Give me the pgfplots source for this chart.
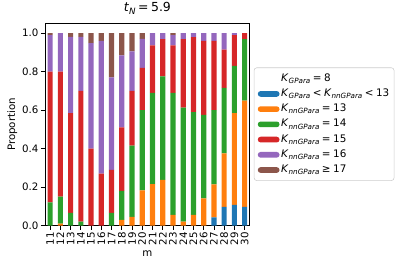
\documentclass[border=0pt]{standalone}
\usepackage{fontspec}
\setmainfont{DejaVu Sans}
\usepackage{pgfplots}
\usepackage{pgfplotstable}
\pgfplotsset{compat=1.18}
\definecolor{tabblue}{HTML}{1F77B4}
\definecolor{taborange}{HTML}{FF7F0E}
\definecolor{tabgreen}{HTML}{2CA02C}
\definecolor{tabred}{HTML}{D62728}
\definecolor{tabpurple}{HTML}{9467BD}
\definecolor{tabbrown}{HTML}{8C564B}
\newcommand{\sub}[1]{\raisebox{-0.22em}{\fontsize{5.2}{6}\selectfont\textit{#1}}}
\newcommand{\KG}{\textit{K}\sub{GPara}}
\newcommand{\KN}{\textit{K}\sub{nnGPara}}
\newcommand{\rel}[1]{\kern1.8pt#1\kern1.8pt}
\pgfplotstableread{
x blue orange green red purple brown
0 0 0 0.12 0.68 0.19 0.01
1 0 0.01 0.14 0.65 0.20 0
2 0 0 0.066 0.519 0.395 0.02
3 0 0 0.02 0.68 0.28 0.02
4 0 0 0 0.40 0.548 0.052
5 0 0 0 0.27 0.69 0.04
6 0 0 0.066 0.224 0.48 0.23
7 0 0.03 0.15 0.33 0.375 0.115
8 0 0.045 0.37 0.285 0.205 0.095
9 0 0.183 0.417 0.22 0.15 0.03
10 0 0.216 0.474 0.246 0.064 0
11 0 0.238 0.537 0.194 0.031 0
12 0 0.055 0.635 0.246 0.054 0.01
13 0 0.02 0.593 0.356 0.031 0
14 0 0.055 0.535 0.389 0.021 0
15 0 0.142 0.433 0.385 0.04 0
16 0.043 0.171 0.386 0.36 0.04 0
17 0.097 0.278 0.34 0.20 0.085 0
18 0.107 0.478 0.245 0.16 0.01 0
19 0.097 0.553 0.319 0.031 0 0
}\data
\begin{document}
\fontsize{7.4}{8.8}\selectfont
\begin{tikzpicture}
\path[use as bounding box] (-32.5pt,-30.7pt) rectangle (261.6pt,163pt);
\begin{axis}[
  at={(0pt,0pt)}, anchor=south west,
  scale only axis, width=148pt, height=146pt,
  ybar stacked, bar width=0.5,
  xmin=-0.5, xmax=19.5, ymin=0, ymax=1.05,
  xtick=data,
  xticklabels={11,12,13,14,15,16,17,18,19,20,21,22,23,24,25,26,27,28,29,30},
  xticklabel style={rotate=90, anchor=east, inner sep=1.5pt},
  yticklabel style={inner sep=1.5pt},
  ytick={0,0.2,0.4,0.6,0.8,1.0},
  yticklabel style={/pgf/number format/.cd, fixed, fixed zerofill, precision=1, assume math mode=true},
  xtick pos=bottom, ytick pos=left,
  tick align=outside, major tick length=3pt,
  tick style={black, line width=0.55pt},
  axis line style={line width=0.55pt},
  xlabel={m}, ylabel={Proportion},
  xlabel style={at={(axis description cs:0.5,-0.153)}, anchor=base},
  ylabel style={at={(axis description cs:-0.159,0.5)}, anchor=center},
  title={\fontsize{9}{10}\selectfont\textit{t}\raisebox{-0.22em}{\fontsize{6.3}{7}\selectfont\textit{N}}\rel{=}5.9},
  title style={at={(axis description cs:0.5,1.016)}, anchor=base},
  legend style={at={(1.0195,0.502)}, anchor=west, draw=black!20, rounded corners=2pt,
    font=\fontsize{7.5}{8.8}\selectfont, row sep=1.5pt, inner xsep=2.5pt, inner ysep=3pt,
    nodes={inner sep=1pt, text height=5.7pt, text depth=1.8pt},
    cells={anchor=west}},
  legend image code/.code={\fill[#1] (0pt,-2.2pt) rectangle (15.7pt,1.9pt);},
]
\addlegendimage{fill=white, draw=white}
\addlegendentry{\KG\rel{=}8}
\addplot[fill=tabblue, draw=none] table[x=x, y=blue] {\data};
\addlegendentry{\KG\rel{<}\KN\rel{<}13}
\addplot[fill=taborange, draw=none] table[x=x, y=orange] {\data};
\addlegendentry{\KN\rel{=}13}
\addplot[fill=tabgreen, draw=none] table[x=x, y=green] {\data};
\addlegendentry{\KN\rel{=}14}
\addplot[fill=tabred, draw=none] table[x=x, y=red] {\data};
\addlegendentry{\KN\rel{=}15}
\addplot[fill=tabpurple, draw=none] table[x=x, y=purple] {\data};
\addlegendentry{\KN\rel{=}16}
\addplot[fill=tabbrown, draw=none] table[x=x, y=brown] {\data};
\addlegendentry{\KN\rel{≥}17}
\end{axis}
\end{tikzpicture}
\end{document}
